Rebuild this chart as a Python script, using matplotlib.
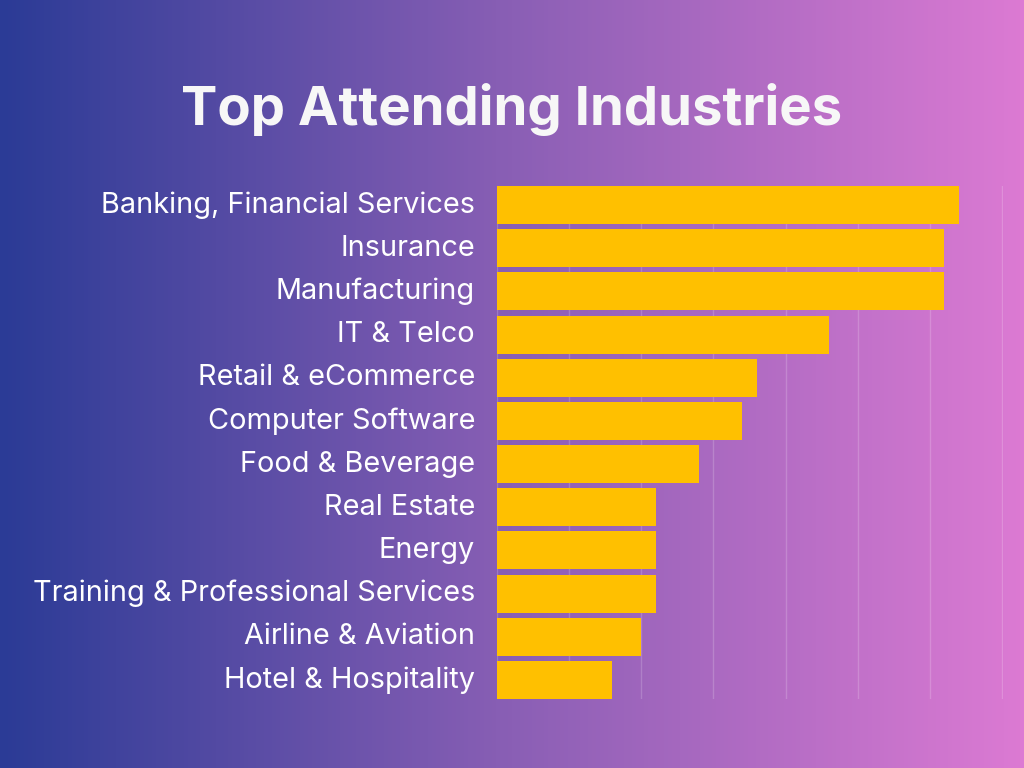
import numpy as np
import matplotlib.pyplot as plt
import matplotlib.transforms as mtransforms
from matplotlib.colors import LinearSegmentedColormap

# data (units = one gridline step)
industries = ['Banking, Financial Services', 'Insurance', 'Manufacturing', 'IT & Telco',
              'Retail & eCommerce', 'Computer Software', 'Food & Beverage', 'Real Estate',
              'Energy', 'Training & Professional Services', 'Airline & Aviation',
              'Hotel & Hospitality']
values = [6.4, 6.2, 6.2, 4.6, 3.6, 3.4, 2.8, 2.2, 2.2, 2.2, 2.0, 1.6]

plt.rcParams['font.family'] = ['Inter', 'DejaVu Sans']

fig = plt.figure(figsize=(10.24, 7.68), dpi=100)

# background gradient
bg = fig.add_axes([0, 0, 1, 1], zorder=0)
cmap = LinearSegmentedColormap.from_list('bg', ['#2B3B96', '#8A5FB5', '#DC7AD3'])
bg.imshow(np.linspace(0, 1, 512).reshape(1, -1), aspect='auto', cmap=cmap,
          extent=[0, 1, 0, 1])
bg.axis('off')

fig.text(0.5, 0.858, 'Top Attending Industries', ha='center', va='center',
         fontsize=39.2, fontweight='bold', color='#F7F7F7')

ax = fig.add_axes([0.4854, 0.0898, 0.4931 * 7.02 / 7, 0.668], zorder=1)
ax.patch.set_alpha(0)
y = np.arange(len(industries))
ax.barh(y, values, height=0.88, color='#FFC000', zorder=3)
ax.set_xlim(0, 7.02)
ax.set_ylim(len(industries) - 0.56, -0.44)
ax.set_xticks(range(0, 8))
ax.set_xticklabels([])
ax.set_yticks(y)
ax.set_yticklabels([])
ax.tick_params(length=0)

# category labels, right-aligned ~22px left of the axis
trans = ax.get_yaxis_transform() + mtransforms.ScaledTranslation(-0.22, 0.0, fig.dpi_scale_trans)
for yi, name in zip(y, industries):
    ax.text(0, yi, name, transform=trans, ha='right', va='center',
            fontsize=20.8, color='white', clip_on=False)

ax.grid(axis='x', color='white', alpha=0.18, linewidth=1, zorder=0)
for s in ax.spines.values():
    s.set_visible(False)

fig.savefig('out.png', dpi=100)
